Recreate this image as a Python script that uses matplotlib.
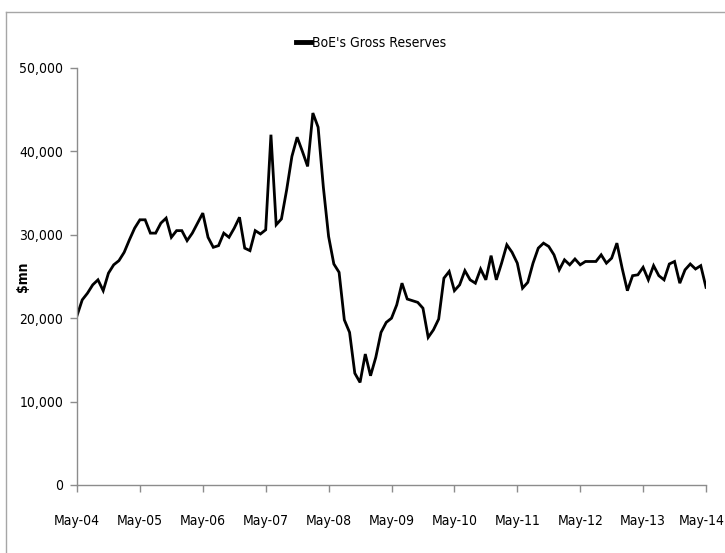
import matplotlib
matplotlib.use('Agg')
import matplotlib.pyplot as plt
import matplotlib.transforms as mtransforms
from matplotlib.lines import Line2D
from matplotlib.ticker import FuncFormatter

plt.rcParams['font.family'] = ['DejaVu Sans']
plt.rcParams['font.stretch'] = 'condensed'

# BoE gross reserves, $mn, monthly May-04 .. May-14
reserves = [
    20300, 22200, 23000, 24000, 24600, 23300, 25400, 26400, 26900, 27900, 29400, 30800,  # May-04
    31800, 31800, 30200, 30200, 31400, 32000, 29700, 30500, 30500, 29300, 30200, 31400,  # May-05
    32600, 29700, 28500, 28700, 30200, 29700, 30800, 32100, 28400, 28100, 30500, 30100,  # May-06
    30600, 42000, 31200, 31900, 35400, 39400, 41700, 40000, 38200, 44600, 42900, 35700,  # May-07
    29800, 26500, 25500, 19800, 18300, 13400, 12300, 15700, 13100, 15300, 18300, 19500,  # May-08
    20000, 21600, 24200, 22300, 22100, 21900, 21200, 17700, 18600, 19900, 24800, 25600,  # May-09
    23300, 24000, 25700, 24600, 24200, 25900, 24600, 27500, 24600, 26600, 28800, 27900,  # May-10
    26600, 23600, 24300, 26600, 28400, 29000, 28600, 27600, 25800, 27000, 26400, 27100,  # May-11
    26400, 26800, 26800, 26800, 27600, 26600, 27200, 29000, 26000, 23300, 25100, 25200,  # May-12
    26100, 24600, 26300, 25100, 24600, 26500, 26800, 24200, 25800, 26500, 25900, 26300,  # May-13
    23700,  # May-14
]
tick_labels = ['May-04', 'May-05', 'May-06', 'May-07', 'May-08', 'May-09',
               'May-10', 'May-11', 'May-12', 'May-13', 'May-14']
y_ticks = [0, 10000, 20000, 30000, 40000, 50000]

fig = plt.figure(figsize=(7.25, 5.53), dpi=100)
ax = fig.add_axes([77 / 725, 1 - 485 / 553, 629 / 725, 417 / 553])

months = list(range(len(reserves)))
ax.plot(months, reserves, color='black', lw=2.0, label="BoE's Gross Reserves",
        solid_joinstyle='miter')

ax.set_xlim(0, len(reserves) - 1)
ax.set_ylim(0, 50000)
ax.set_xticks(months[::12])
ax.set_xticklabels(tick_labels)
ax.set_yticks(y_ticks)
ax.yaxis.set_major_formatter(FuncFormatter(lambda v, p: f'{int(v):,}'))

gray = '#8c8c8c'
for s in ['top', 'right']:
    ax.spines[s].set_visible(False)
for s in ['left', 'bottom']:
    ax.spines[s].set_color(gray)
    ax.spines[s].set_linewidth(1.0)
ax.tick_params(axis='both', colors=gray, length=5, width=1.0, labelcolor='black',
               labelsize=10)
ax.tick_params(axis='x', pad=16)
ax.tick_params(axis='y', pad=5)

# last label sits at the right edge, nudge it in so it is not clipped
last = ax.get_xticklabels()[-1]
last.set_transform(last.get_transform() +
                   mtransforms.ScaledTranslation(-4 / 100, 0, fig.dpi_scale_trans))

ax.set_ylabel('$mn', fontsize=10, fontweight='bold')
ax.yaxis.set_label_coords(-47 / 629, 0.5)

leg = ax.legend(loc='center', bbox_to_anchor=(371 / 725, 1 - 43 / 553),
                bbox_transform=fig.transFigure, frameon=False, fontsize=10,
                handlelength=1.1, handletextpad=0.1)
leg.get_lines()[0].set_linewidth(3.5)

# chart border
fig.add_artist(Line2D([6 / 725, 6 / 725], [0, 1 - 12 / 553], color='#a6a6a6', lw=1.0))
fig.add_artist(Line2D([6 / 725, 1], [1 - 12 / 553, 1 - 12 / 553], color='#a6a6a6', lw=1.0))

fig.savefig('out.png', dpi=100)
